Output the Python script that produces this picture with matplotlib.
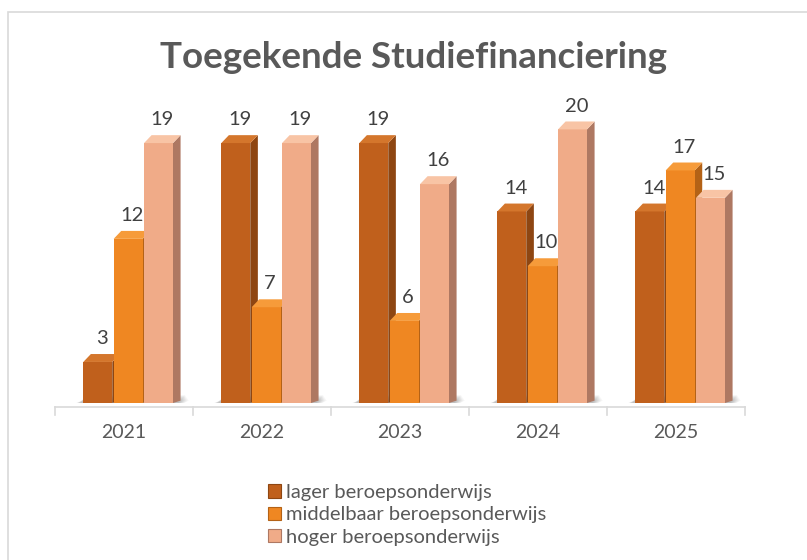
import matplotlib.pyplot as plt
import numpy as np
from matplotlib.patches import Polygon, Rectangle, Patch

plt.rcParams['font.family'] = ['Lato', 'DejaVu Sans']

years = ['2021', '2022', '2023', '2024', '2025']
series = ['lager beroepsonderwijs', 'middelbaar beroepsonderwijs', 'hoger beroepsonderwijs']
lager = [3, 19, 19, 14, 14]
middelbaar = [12, 7, 6, 10, 17]
hoger = [19, 19, 16, 20, 15]

values = [lager, middelbaar, hoger]
front_colors = ['#C0601C', '#EF8722', '#F0AB88']
top_colors = ['#D4762C', '#F69B3A', '#F8C4A5']
side_colors = ['#8E4612', '#B46216', '#AE7862']
offsets = [-0.19, 0.03, 0.25]
width = 0.21
dx, dy = 0.055, 0.58   # fake depth of the 3d look
text_color = '#595959'

fig = plt.figure(figsize=(8.07, 5.6), dpi=100)
ax = fig.add_axes([55 / 807, 157 / 560, 690 / 807, 303 / 560])
x = np.arange(len(years))

# soft shadow under each group
for i in x:
    left = i + offsets[0] - width / 2
    right = i + offsets[-1] + width / 2 + dx
    for k in range(6):
        ax.add_patch(Polygon([(left - 0.1 + k * 0.014, -0.15), (right - k * 0.005, -0.15),
                              (right + 0.06 - k * 0.005, 0.2 + k * 0.07), (left + 0.02, 0.2 + k * 0.07)],
                             closed=True, facecolor='#7f7f7f', edgecolor='none', alpha=0.1, zorder=1))

for s, vals in enumerate(values):
    xs = x + offsets[s]
    ax.bar(xs, vals, width=width, color=front_colors[s], zorder=3 + s, edgecolor='none')
    for xi, v in zip(xs, vals):
        l, r = xi - width / 2, xi + width / 2
        # top face
        ax.add_patch(Polygon([(l, v), (r, v), (r + dx, v + dy), (l + dx, v + dy)], closed=True,
                             facecolor=top_colors[s], edgecolor='none', zorder=3 + s))
        # side face
        ax.add_patch(Polygon([(r, 0), (r + dx, dy * 0.3), (r + dx, v + dy), (r, v)], closed=True,
                             facecolor=side_colors[s], edgecolor='none', zorder=2.5 + s))
        ax.annotate(str(v), (xi + dx / 2, v + dy), xytext=(0, 5), textcoords='offset points',
                    ha='center', va='bottom', fontsize=14.5, color='#404040')

# category axis
ax.plot([-0.5, 4.5], [-0.3, -0.3], color='#d9d9d9', lw=1.2, clip_on=False, zorder=2)
for b in np.arange(-0.5, 5, 1.0):
    ax.plot([b, b], [-0.3, -0.85], color='#d9d9d9', lw=1.2, clip_on=False)
for i, y in zip(x, years):
    ax.text(i, -1.5, y, ha='center', va='top', fontsize=14, color=text_color)

ax.set_xlim(-0.5, 4.5)
ax.set_ylim(0, 22.15)
ax.axis('off')

fig.text(0.513, 0.897, 'Toegekende Studiefinanciering', ha='center', va='center',
         fontsize=26.5, fontweight='bold', color=text_color)

handles = [Patch(facecolor=c, edgecolor=sc, linewidth=0.8) for c, sc in zip(front_colors, side_colors)]
fig.legend(handles, series, loc='upper left', bbox_to_anchor=(258 / 807, 1 - 474 / 560),
           frameon=False, fontsize=14.5, labelcolor=text_color, handlelength=0.65, handleheight=0.65,
           handletextpad=0.25, labelspacing=0.26, borderpad=0)

# chart border
fig.add_artist(Rectangle((8 / 807, -0.1), 1.2, 0.1 + 1 - 12 / 560, transform=fig.transFigure,
                         facecolor='none', edgecolor='#d9d9d9', lw=1.2))

fig.savefig('out.png', dpi=100)
